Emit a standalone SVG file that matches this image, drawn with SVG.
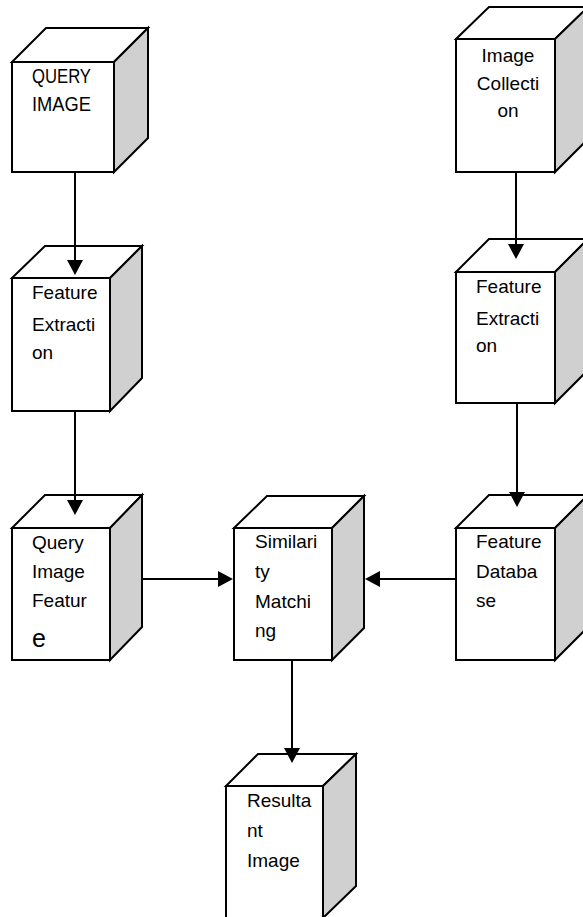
<svg xmlns="http://www.w3.org/2000/svg" width="583" height="917" viewBox="0 0 583 917">
<style>
.front{fill:#fff;stroke:#000;stroke-width:2}
.top{fill:#fff;stroke:#000;stroke-width:2;stroke-linejoin:miter}
.side{fill:#d0d0d0;stroke:#000;stroke-width:2}
.t{font-family:"Liberation Sans",Arial,sans-serif;font-size:19px;fill:#000}
.c{text-anchor:middle}
.edge{stroke:#000;stroke-width:2;fill:none;marker-end:url(#ah)}
</style>
<defs>
<marker id="ah" markerUnits="userSpaceOnUse" markerWidth="15" markerHeight="16" refX="12" refY="8" orient="auto">
<path d="M0,0 L15,8 L0,16 Z" fill="#000"/>
</marker>
</defs>
<rect width="583" height="917" fill="#fff"/>

<g id="query-image">
<polygon class="top" points="12,62 46,28 148,28 114,62"/>
<polygon class="side" points="114,62 148,28 148,138 114,172"/>
<rect class="front" x="12" y="62" width="102" height="110"/>
<text class="t" x="32" y="83" style="font-size:21px" textLength="59" lengthAdjust="spacingAndGlyphs">QUERY</text>
<text class="t" x="32" y="111" style="font-size:21px" textLength="59" lengthAdjust="spacingAndGlyphs">IMAGE</text>
</g>

<g id="feature-extraction-left">
<polygon class="top" points="12,278 45,246 142,246 110,278"/>
<polygon class="side" points="110,278 142,246 142,378 110,411"/>
<rect class="front" x="12" y="278" width="98" height="133"/>
<text class="t" x="32" y="299">Feature</text>
<text class="t" x="32" y="331">Extracti</text>
<text class="t" x="32" y="359">on</text>
</g>

<g id="query-image-feature">
<polygon class="top" points="12,528 45,495 142,495 110,528"/>
<polygon class="side" points="110,528 142,495 142,627 110,660"/>
<rect class="front" x="12" y="528" width="98" height="132"/>
<text class="t" x="32" y="549">Query</text>
<text class="t" x="32" y="578">Image</text>
<text class="t" x="32" y="607">Featur</text>
<text class="t" x="32" y="647" style="font-size:25px">e</text>
</g>

<g id="similarity-matching">
<polygon class="top" points="234,528 267,496 364,496 332,528"/>
<polygon class="side" points="332,528 364,496 364,628 332,660"/>
<rect class="front" x="234" y="528" width="98" height="132"/>
<text class="t" x="255" y="548">Similari</text>
<text class="t" x="255" y="578">ty</text>
<text class="t" x="255" y="608">Matchi</text>
<text class="t" x="255" y="637">ng</text>
</g>

<g id="image-collection">
<polygon class="top" points="456,39 489,7 588,7 555,39"/>
<polygon class="side" points="555,39 588,7 588,139 555,172"/>
<rect class="front" x="456" y="39" width="99" height="133"/>
<text class="t c" x="508" y="62">Image</text>
<text class="t c" x="508" y="90">Collecti</text>
<text class="t c" x="508" y="117">on</text>
</g>

<g id="feature-extraction-right">
<polygon class="top" points="456,272 489,239 588,239 555,272"/>
<polygon class="side" points="555,272 588,239 588,370 555,403"/>
<rect class="front" x="456" y="272" width="99" height="131"/>
<text class="t" x="476" y="293">Feature</text>
<text class="t" x="476" y="325">Extracti</text>
<text class="t" x="476" y="352">on</text>
</g>

<g id="feature-database">
<polygon class="top" points="456,528 489,495 588,495 555,528"/>
<polygon class="side" points="555,528 588,495 588,627 555,660"/>
<rect class="front" x="456" y="528" width="99" height="132"/>
<text class="t" x="476" y="548">Feature</text>
<text class="t" x="476" y="578">Databa</text>
<text class="t" x="476" y="607">se</text>
</g>

<g id="resultant-image">
<polygon class="top" points="226,786 258,754 356,754 323,786"/>
<polygon class="side" points="323,786 356,754 356,886 323,918"/>
<rect class="front" x="226" y="786" width="97" height="132"/>
<text class="t" x="247" y="807">Resulta</text>
<text class="t" x="247" y="837">nt</text>
<text class="t" x="247" y="867">Image</text>
</g>

<g id="connectors">
<path class="edge" d="M75,172 L75,272"/>
<path class="edge" d="M75,411 L75,512"/>
<path class="edge" d="M516,172 L516,256"/>
<path class="edge" d="M517,403 L517,504"/>
<path class="edge" d="M142,579 L230,579"/>
<path class="edge" d="M456,579 L368,579"/>
<path class="edge" d="M292,660 L292,760"/>
</g>
</svg>
